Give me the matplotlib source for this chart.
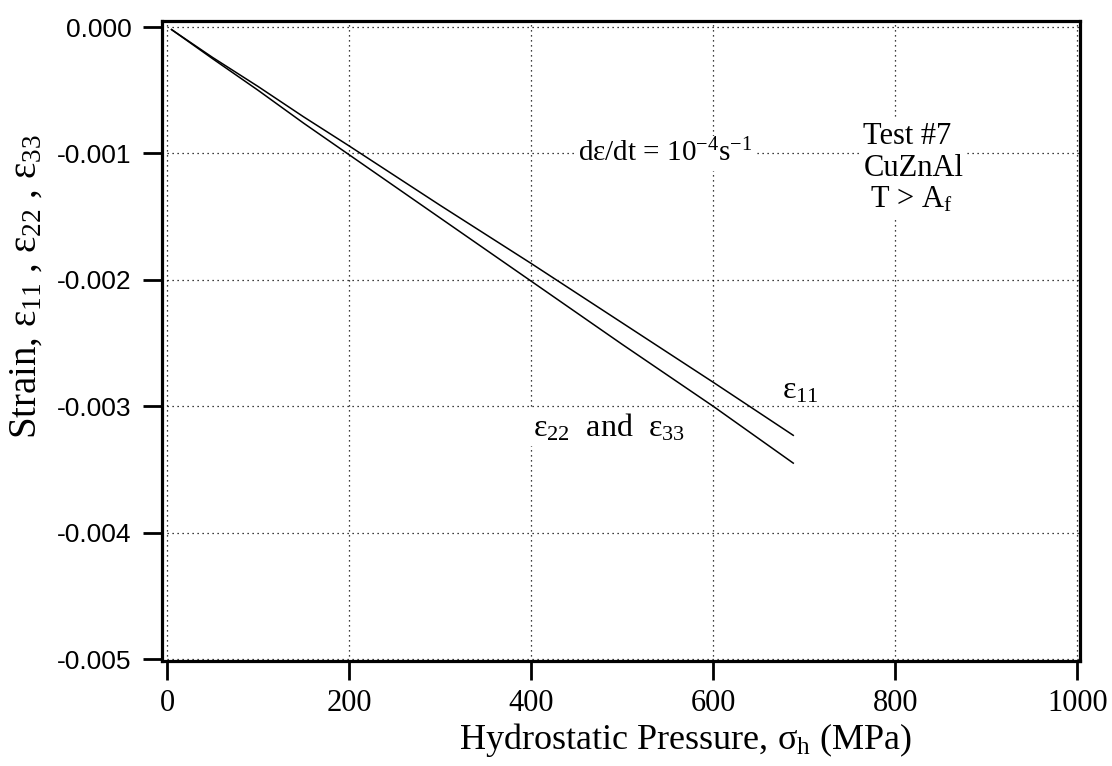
import numpy as np
import matplotlib
matplotlib.use("Agg")
import matplotlib.pyplot as plt
from matplotlib.ticker import FixedLocator, FormatStrFormatter

plt.rcParams["font.family"] = ["Liberation Serif", "DejaVu Serif"]
plt.rcParams["mathtext.fontset"] = "custom"
plt.rcParams["mathtext.rm"] = "Liberation Serif"
plt.rcParams["mathtext.it"] = "Liberation Serif:italic"
plt.rcParams["axes.unicode_minus"] = False

# pressure (MPa) and strain
p = [5, 50, 100, 150, 200, 300, 400, 500, 600, 688]
e11 = [-0.00002, -0.00024, -0.00047, -0.00071, -0.00094, -0.00141,
       -0.00187, -0.00234, -0.00281, -0.00323]
e22 = [-0.00002, -0.00025, -0.00050, -0.00076, -0.00101, -0.00151,
       -0.00201, -0.00251, -0.00300, -0.00345]

xticks = [0, 200, 400, 600, 800, 1000]
yticks = [0.000, -0.001, -0.002, -0.003, -0.004, -0.005]

fig = plt.figure(figsize=(11.12, 7.66), dpi=100)
ax = fig.add_axes([0.1457, 0.137, 0.8255, 0.8355])

ax.plot(p, e11, color="black", lw=1.1, zorder=3)
ax.plot(p, e22, color="black", lw=1.1, zorder=3)

ax.set_xlim(-5.5, 1003)
ax.set_ylim(-0.005016, 0.0000475)
ax.xaxis.set_major_locator(FixedLocator(xticks))
ax.yaxis.set_major_locator(FixedLocator(yticks))
ax.yaxis.set_major_formatter(FormatStrFormatter("%.3f"))

ax.grid(True, color="black", linestyle=(0, (1, 3)), lw=0.9, zorder=1)

for s in ax.spines.values():
    s.set_linewidth(2.3)
ax.tick_params(axis="both", direction="out", length=14, width=2.0, pad=8)
ax.tick_params(axis="x", labelsize=22, pad=6)
ax.tick_params(axis="y", labelsize=19)
for lab in ax.get_yticklabels():
    lab.set_fontfamily("Liberation Sans")

ax.set_xlabel(r"Hydrostatic Pressure, σ$_\mathrm{h}$ (MPa)", fontsize=26)
ax.xaxis.set_label_coords(0.57, -0.094)
ax.set_ylabel(r"Strain, ε$_{11}$ , ε$_{22}$ , ε$_{33}$", fontsize=28)
ax.yaxis.set_label_coords(-0.128, 0.585)

box = dict(facecolor="white", edgecolor="none", pad=2)
ax.text(452, -0.001, r"dε/dt = 10$^{-4}$s$^{-1}$", fontsize=21,
        ha="left", va="center", bbox=box, zorder=4)
ax.text(765, -0.00075, "Test #7\nCuZnAl\n T > A$_\\mathrm{f}$", fontsize=22,
        ha="left", va="top", linespacing=1.12, bbox=box, zorder=4)
ax.text(676, -0.00288, r"ε$_{11}$", fontsize=23, ha="left", va="center", zorder=4)
ax.text(402, -0.00317, r"ε$_{22}$  and  ε$_{33}$", fontsize=23,
        ha="left", va="center", bbox=box, zorder=4)

fig.savefig("out.png", dpi=100)
